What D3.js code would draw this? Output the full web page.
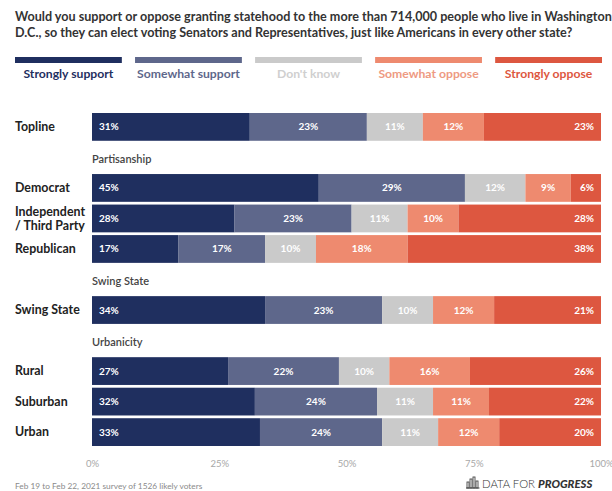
<!DOCTYPE html>
<html>
<head>
<meta charset="utf-8">
<script src="https://cdn.jsdelivr.net/npm/d3@7"></script>
<style>
  html, body { margin: 0; padding: 0; background: #fff; }
  svg { display: block; font-family: Lato, "Open Sans", sans-serif; }
</style>
</head>
<body>
<svg id="chart" width="612" height="491"></svg>
<script>
// Survey rows and the group each one belongs to (null = no group header)
const categories = ["Topline", "Democrat", "Independent / Third Party", "Republican",
                    "Swing State", "Rural", "Suburban", "Urban"];
const groups = [null, "Partisanship", "Partisanship", "Partisanship",
                "Swing State", "Urbanicity", "Urbanicity", "Urbanicity"];

// Response options, in stacking order
const responses = ["Strongly support", "Somewhat support", "Don't know",
                   "Somewhat oppose", "Strongly oppose"];

// Share of respondents (%) for each response, per row
const stronglySupport = [31, 45, 28, 17, 34, 27, 32, 33];
const somewhatSupport = [23, 29, 23, 17, 23, 22, 24, 24];
const dontKnow        = [11, 12, 11, 10, 10, 10, 11, 11];
const somewhatOppose  = [12,  9, 10, 18, 12, 16, 11, 12];
const stronglyOppose  = [23,  6, 28, 38, 21, 26, 22, 20];

const axisTicks = [0, 0.25, 0.5, 0.75, 1];

const colors = ["#1f2f5f", "#5e678b", "#cacaca", "#ee8a6f", "#dd5740"];
const legendTextColors = ["#1f2f5f", "#5e678b", "#cfcfcf", "#ee9a82", "#dd5740"];

const title = [
  "Would you support or oppose granting statehood to the more than 714,000 people who live in Washington",
  "D.C., so they can elect voting Senators and Representatives, just like Americans in every other state?"
];
const footnote = "Feb 19 to Feb 22, 2021 survey of 1526 likely voters";

// Build table rows for the stack
const seriesValues = [stronglySupport, somewhatSupport, dontKnow, somewhatOppose, stronglyOppose];
const table = categories.map((c, i) => {
  const row = { category: c, group: groups[i] };
  responses.forEach((r, k) => { row[r] = seriesValues[k][i]; });
  return row;
});

// Vertical slots: group headers take a slot of their own
const slots = [];
let lastGroup = null;
table.forEach(d => {
  if (d.group && d.group !== lastGroup) slots.push({ header: d.group, key: "h:" + d.group });
  lastGroup = d.group;
  slots.push({ row: d, key: "r:" + d.category });
});

const svg = d3.select("#chart");

const x = d3.scaleLinear().domain([0, 1]).range([92, 601]);
const y = d3.scaleBand().domain(slots.map(s => s.key)).range([113, 446]).paddingInner(0.09);
const color = d3.scaleOrdinal().domain(responses).range(colors);

// Title
svg.append("g").selectAll("text").data(title).join("text")
  .attr("x", 15).attr("y", (d, i) => 21 + i * 15.5)
  .attr("fill", "#333").attr("font-size", 12.6).attr("font-weight", 700)
  .text(d => d);

// Legend
const legendX = d3.scaleBand().domain(responses).range([15, 602]).paddingInner(0.11);
const legend = svg.append("g").selectAll("g").data(responses).join("g");
legend.append("rect")
  .attr("x", d => legendX(d)).attr("y", 57)
  .attr("width", legendX.bandwidth()).attr("height", 6)
  .attr("fill", d => color(d));
legend.append("text")
  .attr("x", d => legendX(d) + legendX.bandwidth() / 2).attr("y", 77.5)
  .attr("text-anchor", "middle").attr("font-size", 12.2).attr("font-weight", 700)
  .attr("fill", (d, i) => legendTextColors[i])
  .text(d => d);

// Stacked bars, normalised to each row's total
const stack = d3.stack().keys(responses).offset(d3.stackOffsetExpand);
const series = stack(table);

const rowY = d => y("r:" + d.data.category);

const layers = svg.append("g").selectAll("g").data(series).join("g")
  .attr("fill", d => color(d.key));

layers.selectAll("rect").data(d => d).join("rect")
  .attr("x", d => x(d[0]))
  .attr("y", d => rowY(d))
  .attr("width", d => x(d[1]) - x(d[0]))
  .attr("height", y.bandwidth());

// Value labels: first segment left-aligned, last right-aligned, others centred
layers.each(function(s, k) {
  d3.select(this).selectAll("text").data(s).join("text")
    .attr("x", d => k === 0 ? x(d[0]) + 7 : k === responses.length - 1 ? x(d[1]) - 7 : (x(d[0]) + x(d[1])) / 2)
    .attr("y", d => rowY(d) + y.bandwidth() / 2)
    .attr("dy", "0.35em")
    .attr("text-anchor", k === 0 ? "start" : k === responses.length - 1 ? "end" : "middle")
    .attr("fill", "#fff").attr("font-size", 10).attr("font-weight", 700)
    .text(d => d.data[s.key] + "%");
});

// Row labels
const rowLabels = svg.append("g").selectAll("text").data(table).join("text")
  .attr("x", 15)
  .attr("y", d => y("r:" + d.category) + y.bandwidth() / 2)
  .attr("fill", "#222").attr("font-size", 12.4).attr("font-weight", 700);
rowLabels.each(function(d) {
  const parts = d.category.includes(" / ")
    ? [d.category.split(" / ")[0], "/ " + d.category.split(" / ")[1]]
    : [d.category];
  d3.select(this).selectAll("tspan").data(parts).join("tspan")
    .attr("x", 15)
    .attr("dy", (p, i) => i === 0 ? (0.35 - (parts.length - 1) * 0.55) + "em" : "1.1em")
    .text(p => p);
});

// Group headers
svg.append("g").selectAll("text").data(slots.filter(s => s.header)).join("text")
  .attr("x", 92)
  .attr("y", d => y(d.key) + y.bandwidth() / 2 + 2)
  .attr("dy", "0.35em")
  .attr("fill", "#444").attr("font-size", 11).attr("font-weight", 600)
  .text(d => d.header);

// Percentage axis
const axis = svg.append("g")
  .attr("transform", "translate(0,457)")
  .call(d3.axisBottom(x).tickValues(axisTicks).tickFormat(d3.format(".0%")).tickSize(0));
axis.select(".domain").remove();
axis.selectAll("text")
  .attr("font-family", "Lato, 'Open Sans', sans-serif")
  .attr("font-size", 9.5).attr("fill", "#a8a8a8");

// Footnote
svg.append("text")
  .attr("x", 15).attr("y", 489)
  .attr("fill", "#8a8a8a").attr("font-size", 8.3)
  .text(footnote);

// Data for Progress wordmark
const logo = svg.append("g").attr("transform", "translate(467,488)");
logo.selectAll("rect").data([[0, 6], [3, 9], [6, 11], [9, 7]]).join("rect")
  .attr("x", d => d[0]).attr("y", d => -d[1])
  .attr("width", 2).attr("height", d => d[1])
  .attr("fill", "none").attr("stroke", "#444").attr("stroke-width", 0.9);
logo.append("line").attr("x1", -1).attr("x2", 12.5).attr("y1", 0).attr("y2", 0)
  .attr("stroke", "#444").attr("stroke-width", 1);
const word = logo.append("text").attr("x", 15).attr("y", 0)
  .attr("font-size", 11.3).attr("fill", "#333");
word.append("tspan").attr("font-weight", 300).text("DATA FOR ");
word.append("tspan").attr("font-weight", 900).attr("font-style", "italic").text("PROGRESS");
</script>
</body>
</html>
